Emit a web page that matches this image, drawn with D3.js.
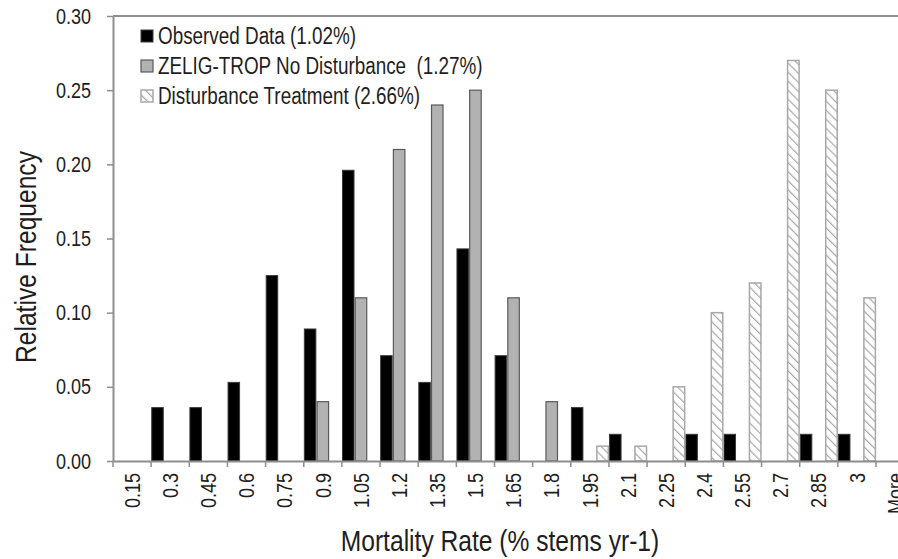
<!DOCTYPE html>
<html>
<head>
<meta charset="utf-8">
<script src="https://cdn.jsdelivr.net/npm/d3@7/dist/d3.min.js"></script>
<style>
  html, body { margin: 0; padding: 0; background: #fff; overflow: hidden; }
  svg { display: block; }
  text { font-family: 'Liberation Sans', Arial, sans-serif; fill: #1e1e1e; }
</style>
</head>
<body>
<svg id="chart" width="898" height="559"></svg>
<script>
const categories = ["0.15","0.3","0.45","0.6","0.75","0.9","1.05","1.2","1.35","1.5","1.65","1.8","1.95","2.1","2.25","2.4","2.55","2.7","2.85","3","More"];
const observed    = [0, 0.036, 0.036, 0.053, 0.125, 0.089, 0.196, 0.071, 0.053, 0.143, 0.071, 0, 0.036, 0.018, 0, 0.018, 0.018, 0, 0.018, 0.018, 0];
const zeligNoDist = [0, 0, 0, 0, 0, 0.04, 0.11, 0.21, 0.24, 0.25, 0.11, 0.04, 0, 0, 0, 0, 0, 0, 0, 0, 0];
const disturbance = [0, 0, 0, 0, 0, 0, 0, 0, 0, 0, 0, 0, 0.01, 0.01, 0.05, 0.10, 0.12, 0.27, 0.25, 0.11, 0.08];
const seriesNames = ["Observed Data (1.02%)", "ZELIG-TROP No Disturbance  (1.27%)", "Disturbance Treatment (2.66%)"];
const yTicks = [0, 0.05, 0.10, 0.15, 0.20, 0.25, 0.30];
const xTitle = "Mortality Rate (% stems yr-1)";
const yTitle = "Relative Frequency";

const seriesValues = [observed, zeligNoDist, disturbance];
const seriesStyle = [
  { fill: "#000000", stroke: "#3a3a3a", sw: 1 },
  { fill: "#b2b2b2", stroke: "#5a5a5a", sw: 1.2 },
  { fill: "url(#hatch)", stroke: "#a8a8a8", sw: 1.5 }
];

const svg = d3.select("#chart");
const defs = svg.append("defs");
const pat = defs.append("pattern")
  .attr("id", "hatch")
  .attr("patternUnits", "userSpaceOnUse")
  .attr("width", 6.4).attr("height", 6.4)
  .attr("patternTransform", "rotate(-45)");
pat.append("rect").attr("width", 6.4).attr("height", 6.4).attr("fill", "#fff");
pat.append("line").attr("x1", 0).attr("y1", 0).attr("x2", 0).attr("y2", 6.4)
  .attr("stroke", "#a8a8a8").attr("stroke-width", 2.4);

const plotLeft = 113, plotTop = 16, plotBottom = 461, bandStep = 38.15;
const x = d3.scaleBand().domain(categories).range([plotLeft, plotLeft + categories.length * bandStep]).padding(0);
const xSub = d3.scaleBand().domain([0, 1, 2]).range([0, x.bandwidth()]).padding(0);
const y = d3.scaleLinear().domain([0, 0.30]).range([plotBottom, plotTop]);

const axisColor = "#8e8e8e";
const narrow = 0.82; // condensed look of the original typeface

function condense(sel) {
  sel.each(function () {
    const len = this.getComputedTextLength();
    if (len > 0) {
      d3.select(this).attr("textLength", len * narrow).attr("lengthAdjust", "spacingAndGlyphs");
    }
  });
}

// frame top
svg.append("line")
  .attr("x1", plotLeft).attr("x2", x.range()[1])
  .attr("y1", y(0.30)).attr("y2", y(0.30))
  .attr("stroke", axisColor).attr("stroke-width", 2);

// bars
seriesValues.forEach((vals, si) => {
  const st = seriesStyle[si];
  svg.append("g").selectAll("rect")
    .data(categories.map((c, i) => ({ c, v: vals[i] })).filter(d => d.v > 0))
    .join("rect")
    .attr("x", d => x(d.c) + xSub(si) + 0.6)
    .attr("width", xSub.bandwidth() - 1.2)
    .attr("y", d => y(d.v))
    .attr("height", d => y(0) - y(d.v))
    .attr("fill", st.fill)
    .attr("stroke", st.stroke)
    .attr("stroke-width", st.sw);
});

// y axis
const yAxis = d3.axisLeft(y).tickValues(yTicks).tickFormat(d3.format(".2f"))
  .tickSize(6).tickSizeOuter(0).tickPadding(16);
const gy = svg.append("g").attr("transform", `translate(${plotLeft},0)`).call(yAxis);
gy.select(".domain").attr("stroke", axisColor).attr("stroke-width", 2);
gy.selectAll(".tick line").attr("stroke", axisColor).attr("stroke-width", 1.5);
gy.selectAll(".tick text").attr("font-size", 22).attr("fill", "#1e1e1e")
  .style("font-family", "'Liberation Sans', Arial, sans-serif")
  .call(condense);

// x axis (labels centered in bands)
const xAxis = d3.axisBottom(x).tickSize(0).tickSizeOuter(0).tickPadding(0);
const gx = svg.append("g").attr("transform", `translate(0,${plotBottom})`).call(xAxis);
gx.select(".domain").attr("stroke", axisColor).attr("stroke-width", 2);
gx.selectAll(".tick text")
  .attr("font-size", 22).attr("fill", "#1e1e1e")
  .style("font-family", "'Liberation Sans', Arial, sans-serif")
  .attr("text-anchor", "end")
  .attr("transform", "translate(0,12) rotate(-90)")
  .attr("x", 0).attr("y", 0).attr("dy", "0.35em")
  .call(condense);

// boundary ticks between categories
svg.append("g").selectAll("line")
  .data(categories)
  .join("line")
  .attr("x1", d => x(d)).attr("x2", d => x(d))
  .attr("y1", plotBottom).attr("y2", plotBottom + 6)
  .attr("stroke", axisColor).attr("stroke-width", 1.5);

// titles
svg.append("text")
  .attr("x", 500).attr("y", 551)
  .attr("text-anchor", "middle").attr("font-size", 30)
  .text(xTitle)
  .call(condense);
svg.append("text")
  .attr("transform", "translate(36,257) rotate(-90)")
  .attr("text-anchor", "middle").attr("font-size", 30)
  .text(yTitle)
  .call(condense);

// legend
const legend = svg.append("g");
seriesNames.forEach((name, i) => {
  const ly = 44 + i * 30;
  legend.append("rect")
    .attr("x", 141).attr("y", ly - 14).attr("width", 12).attr("height", 12)
    .attr("fill", seriesStyle[i].fill).attr("stroke", seriesStyle[i].stroke)
    .attr("stroke-width", seriesStyle[i].sw);
  legend.append("text")
    .attr("x", 158).attr("y", ly)
    .attr("font-size", 23)
    .style("white-space", "pre")
    .attr("xml:space", "preserve")
    .text(name)
    .call(condense);
});
</script>
</body>
</html>
